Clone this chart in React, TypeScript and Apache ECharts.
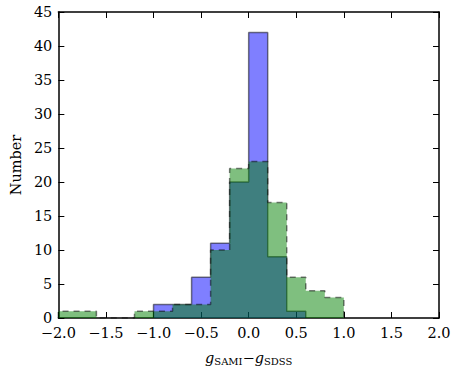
import React, { useEffect, useRef } from "react";
import * as echarts from "echarts";

// Histogram bin edges (width 0.2) and counts per bin
const binEdges = [-2.0, -1.8, -1.6, -1.4, -1.2, -1.0, -0.8, -0.6, -0.4, -0.2, 0.0, 0.2, 0.4, 0.6, 0.8, 1.0];
const blueCounts = [0, 0, 0, 0, 0, 2, 2, 6, 11, 20, 42, 9, 1, 0, 0];
const greenCounts = [1, 1, 0, 0, 1, 1, 2, 2, 10, 22, 23, 17, 6, 4, 3];
const xTicks = [-2.0, -1.5, -1.0, -0.5, 0.0, 0.5, 1.0, 1.5, 2.0];
const yTicks = [0, 5, 10, 15, 20, 25, 30, 35, 40, 45];

function stepOutline(edges: number[], counts: number[]): number[][] {
  const first = counts.findIndex((c) => c > 0);
  let last = counts.length - 1;
  while (last >= 0 && counts[last] === 0) last--;
  const pts: number[][] = [[edges[first], 0]];
  for (let i = first; i <= last; i++) {
    pts.push([edges[i], counts[i]]);
    pts.push([edges[i + 1], counts[i]]);
  }
  pts.push([edges[last + 1], 0]);
  return pts;
}

const fmt = (v: number) => (v < 0 ? "\u2212" + Math.abs(v).toFixed(1) : v.toFixed(1));
const FONT = "'DejaVu Serif', serif";

export default function App() {
  const ref = useRef<HTMLDivElement>(null);
  useEffect(() => {
    if (!ref.current) return;
    const chart = echarts.init(ref.current, null, { renderer: "svg" });
    const axisLine = { show: true, onZero: false, lineStyle: { color: "#000", width: 1.5 } };
    const tick = { show: true, inside: true, length: 6, lineStyle: { color: "#000", width: 1 } };
    chart.setOption({
      animation: false,
      backgroundColor: "#fff",
      grid: { left: 56, right: 24, top: 12, bottom: 52 },
      xAxis: [
        {
          type: "value",
          min: xTicks[0],
          max: xTicks[xTicks.length - 1],
          interval: 0.5,
          axisLine,
          axisTick: tick,
          splitLine: { show: false },
          axisLabel: { formatter: fmt, color: "#000", fontFamily: FONT, fontSize: 14.5, margin: 7 },
          name: "{i|g}{s|SAMI}{m|\u2212}{i|g}{s|SDSS}",
          nameLocation: "middle",
          nameGap: 32,
          nameTextStyle: {
            rich: {
              i: { fontFamily: FONT, fontStyle: "italic", fontSize: 14.5, color: "#000" },
              s: { fontFamily: FONT, fontSize: 10, color: "#000", padding: [6, 0, 0, 0] },
              m: { fontFamily: FONT, fontSize: 14.5, color: "#000" },
            },
          },
        },
        {
          type: "value",
          position: "top",
          min: xTicks[0],
          max: xTicks[xTicks.length - 1],
          interval: 0.5,
          axisLine,
          axisTick: tick,
          axisLabel: { show: false },
          splitLine: { show: false },
        },
      ],
      yAxis: [
        {
          type: "value",
          min: yTicks[0],
          max: yTicks[yTicks.length - 1],
          interval: 5,
          axisLine,
          axisTick: tick,
          splitLine: { show: false },
          axisLabel: { color: "#000", fontFamily: FONT, fontSize: 14.5, margin: 6 },
          name: "Number",
          nameLocation: "middle",
          nameGap: 34,
          nameTextStyle: { fontFamily: FONT, fontSize: 14.5, color: "#000" },
        },
        {
          type: "value",
          position: "right",
          min: yTicks[0],
          max: yTicks[yTicks.length - 1],
          interval: 5,
          axisLine,
          axisTick: tick,
          axisLabel: { show: false },
          splitLine: { show: false },
        },
      ],
      series: [
        {
          type: "line",
          data: stepOutline(binEdges, blueCounts),
          symbol: "none",
          lineStyle: { color: "#000", opacity: 0.5, width: 1.5 },
          areaStyle: { color: "#0000ff", opacity: 0.5, origin: 0 },
          z: 2,
        },
        {
          type: "line",
          data: stepOutline(binEdges, greenCounts),
          symbol: "none",
          lineStyle: { color: "#000", opacity: 0.5, width: 1.5, type: [6, 5] },
          areaStyle: { color: "#008000", opacity: 0.5, origin: 0 },
          z: 3,
        },
      ],
    });
    return () => chart.dispose();
  }, []);
  return <div ref={ref} style={{ width: 463, height: 371, position: "absolute", left: 0, top: 0 }} />;
}
